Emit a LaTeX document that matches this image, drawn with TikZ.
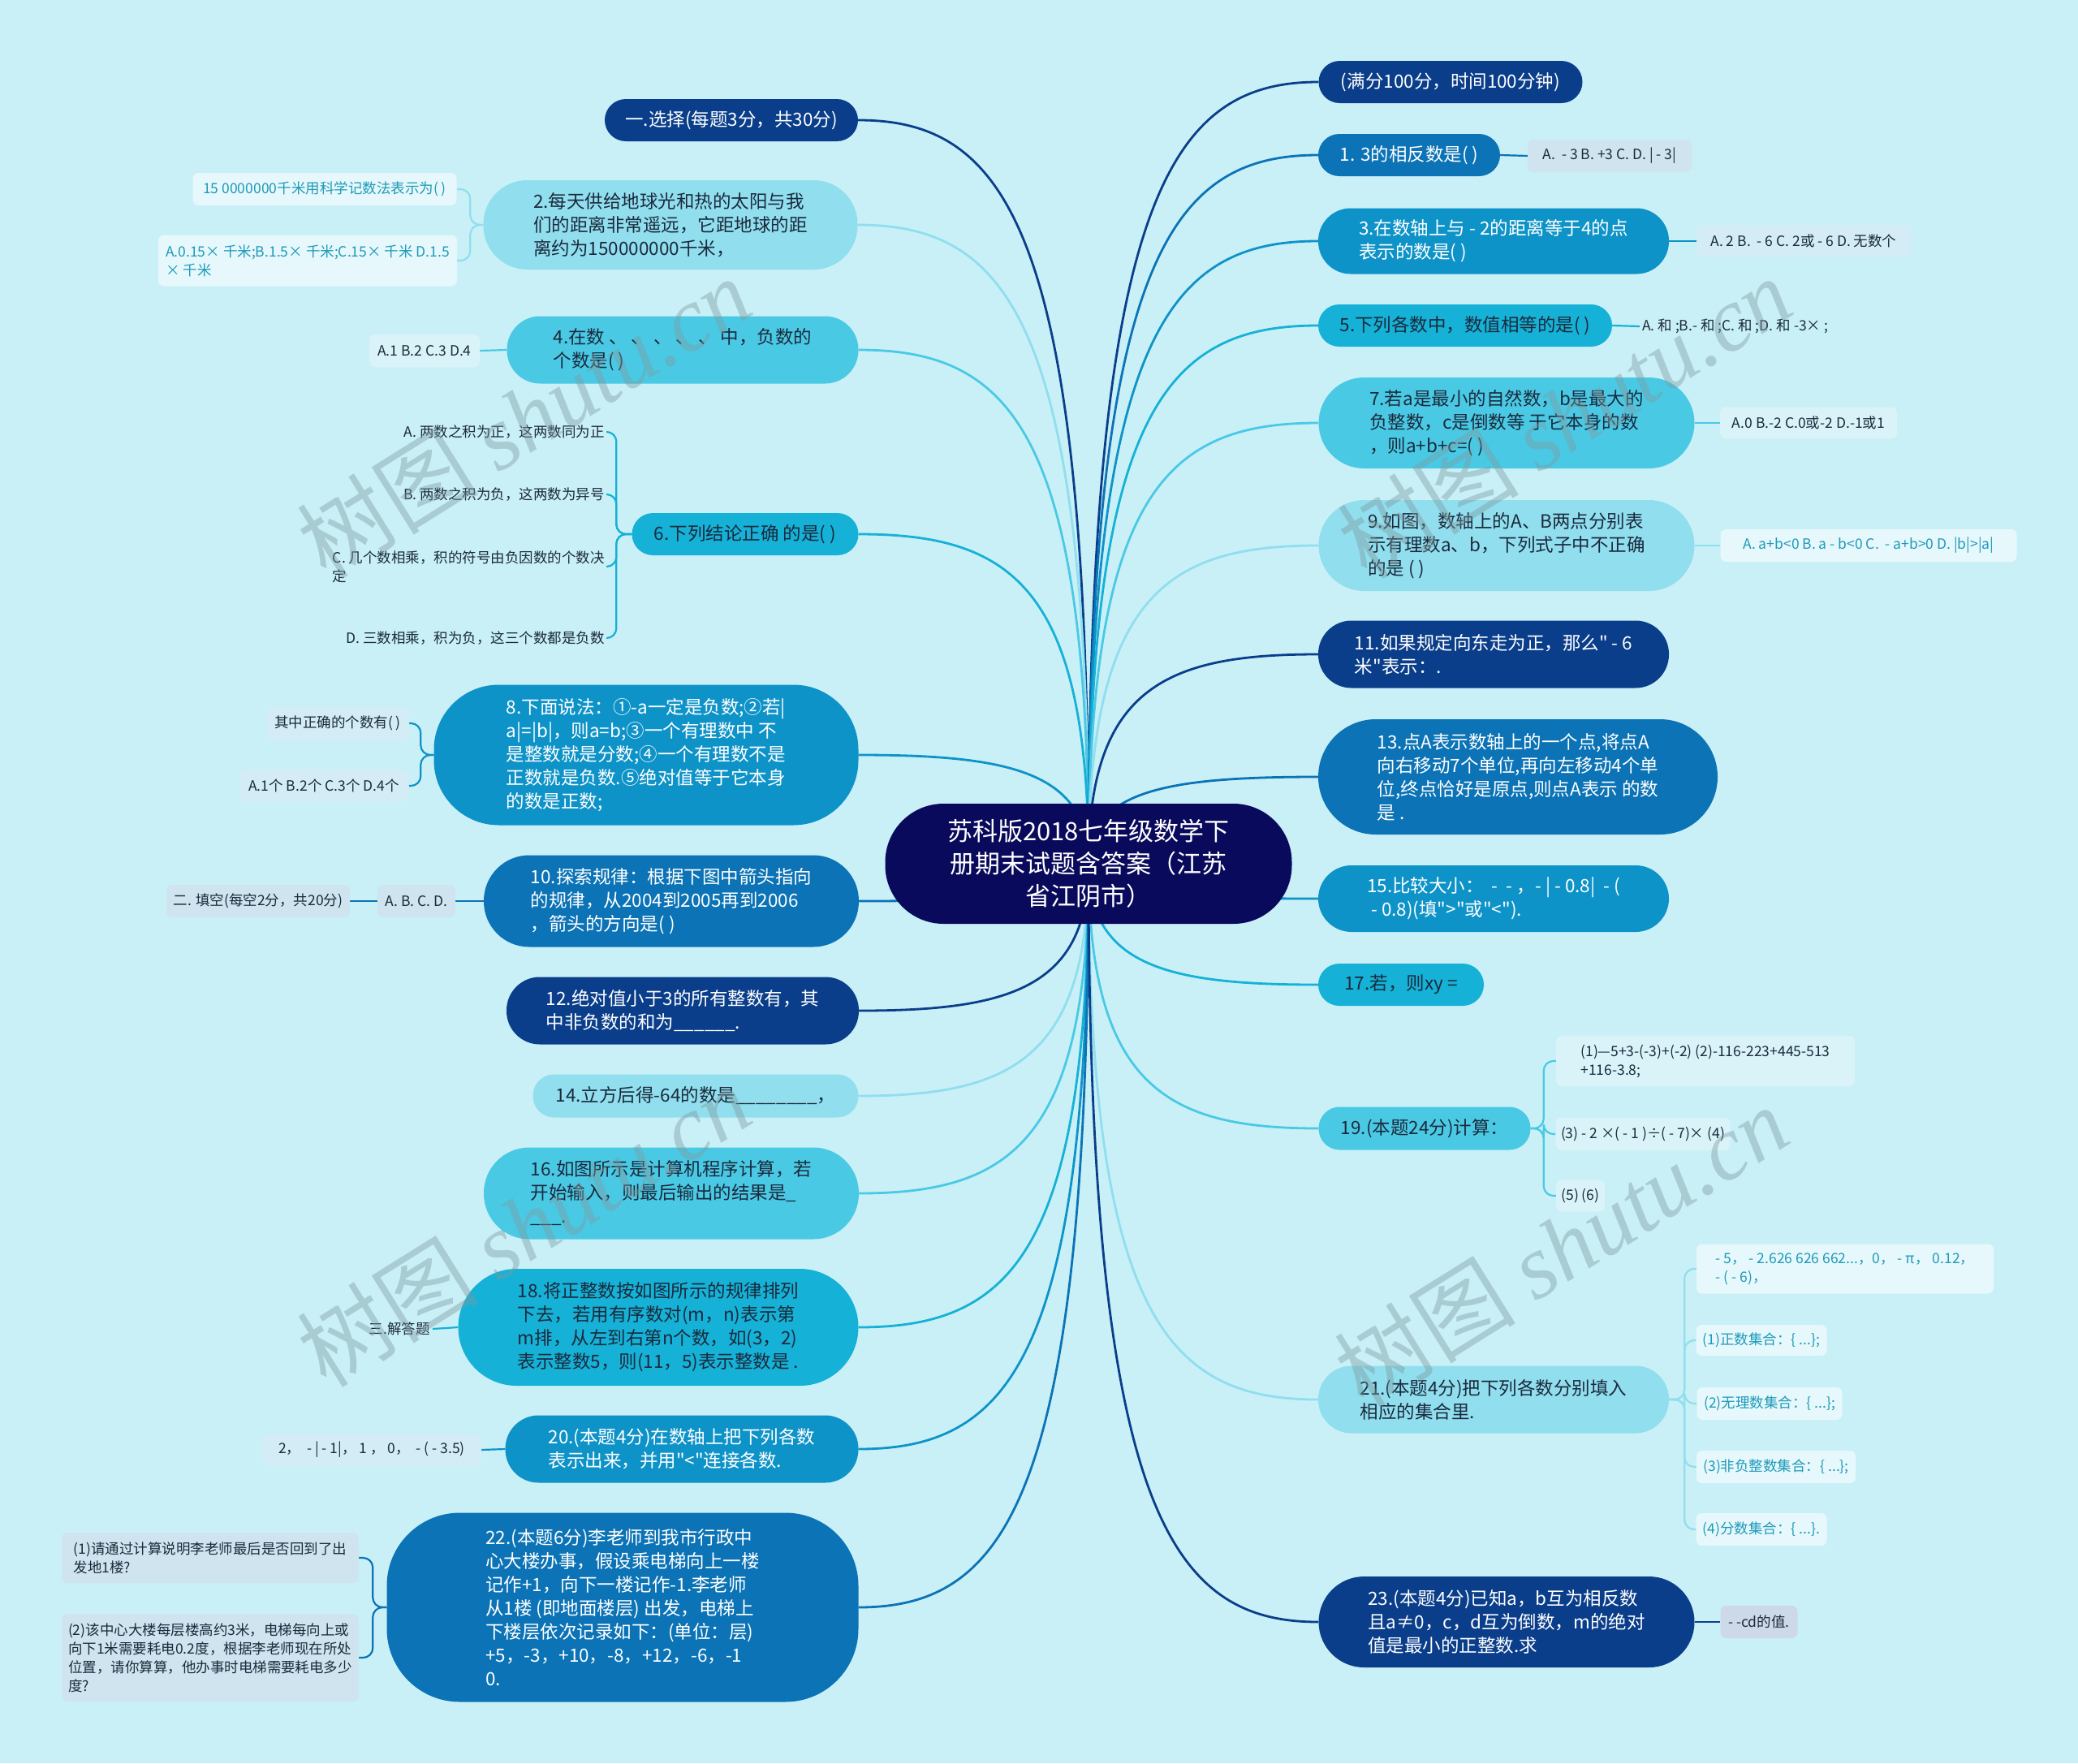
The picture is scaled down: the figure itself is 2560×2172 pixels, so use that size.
\documentclass[tikz,border=0pt]{standalone}
\usepackage{fontspec}
\setmainfont{Noto Sans CJK SC}[Ligatures=TeXOff]
\newfontfamily\wmserif{Liberation Serif}
\usetikzlibrary{calc,positioning}

\pgfdeclarelayer{bg}
\pgfdeclarelayer{lines}
\pgfsetlayers{bg,lines,main}

\definecolor{page}{HTML}{C9F0F7}
\definecolor{rootc}{HTML}{0A0A5C}
\definecolor{cdark}{HTML}{0A3E8A}
\definecolor{cblue}{HTML}{0B73B6}
\definecolor{cmed}{HTML}{0E93C8}
\definecolor{cteal}{HTML}{15B1D7}
\definecolor{ccyan}{HTML}{4AC9E5}
\definecolor{clight}{HTML}{90DEEE}
\definecolor{ink}{HTML}{1B2A3C}
\definecolor{tealink}{HTML}{1E9AB8}
\definecolor{lflight}{HTML}{E6F8FC}
\definecolor{lfcyan}{HTML}{DAF3F9}
\definecolor{lfmed}{HTML}{D3ECF5}
\definecolor{lfblue}{HTML}{CFE4EF}
\definecolor{lfdark}{HTML}{CDD8E8}
\definecolor{wmc}{HTML}{7F9A9F}

\newcommand\fsroot{\fontsize{31}{40}\selectfont}
\newcommand\fsmain{\fontsize{22.5}{29}\selectfont}
\newcommand\fsleaf{\fontsize{17.5}{23}\selectfont}
\newcommand\fswm{\fontsize{112}{120}\selectfont}

\tikzset{
  rootbox/.style={
    rectangle,
    rounded corners=72pt,
    fill=rootc,
    text=white,
    font=\fsroot,
    align=center,
    inner sep=0pt,
    minimum width=501pt,
    minimum height=148pt
  },
  topic/.style={
    rectangle,
    rounded corners=26pt,
    align=left,
    inner sep=0pt,
    font=\fsmain
  },
  dark_topic/.style={topic, fill=cdark, text=white},
  blue_topic/.style={topic, fill=cblue, text=white},
  med_topic/.style={topic, fill=cmed, text=white},
  teal_topic/.style={topic, fill=cteal, text=ink},
  cyan_topic/.style={topic, fill=ccyan, text=ink},
  light_topic/.style={topic, fill=clight, text=ink},
  leaf/.style={
    rectangle,
    rounded corners=7pt,
    align=left,
    inner sep=0pt,
    font=\fsleaf,
    text=ink
  },
  leaf_light/.style={leaf, fill=lflight, text=tealink},
  leaf_cyan/.style={leaf, fill=lfcyan},
  leaf_med/.style={leaf, fill=lfmed},
  leaf_blue/.style={leaf, fill=lfblue},
  leaf_dark/.style={leaf, fill=lfdark},
  leaf_bare/.style={leaf, inner sep=3pt},
  spoke/.style={line width=2.8pt},
  twig/.style={line width=2.2pt, rounded corners=12pt},
  wmark/.style={font=\fswm, text=wmc, text opacity=0.42, rotate=32}
}

\begin{document}
\begin{tikzpicture}[x=1pt, y=-1pt]
  \begin{pgfonlayer}{bg}
    \fill[page] (0,0) rectangle (2560,2172);
  \end{pgfonlayer}

  %=========================================================
  % centre
  %=========================================================
  \node[rootbox] (root) at (1341,1064)
    {苏科版2018七年级数学下\\册期末试题含答案（江苏\\省江阴市）};

  %=========================================================
  % left branches
  %=========================================================
  \node[dark_topic, minimum width=312pt, minimum height=52pt] (L1) at (901,148)
    {一.选择(每题3分，共30分)};
  \node[light_topic, rounded corners=54pt, minimum width=461pt, minimum height=110pt] (L2) at (826,277)
    {2.每天供给地球光和热的太阳与我\\们的距离非常遥远，它距地球的距\\离约为150000000千米，};
  \node[cyan_topic, rounded corners=41pt, minimum width=433pt, minimum height=83pt] (L3) at (841,431)
    {4.在数 、 、 、 、 、 中，负数的\\个数是( )};
  \node[teal_topic, minimum width=279pt, minimum height=52pt] (L4) at (918,658)
    {6.下列结论正确 的是( )};
  \node[med_topic, rounded corners=80pt, minimum width=523pt, minimum height=173pt] (L5) at (796,930)
    {8.下面说法：①-a一定是负数;②若|\\a|=|b|，则a=b;③一个有理数中 不\\是整数就是分数;④一个有理数不是\\正数就是负数.⑤绝对值等于它本身\\的数是正数;};
  \node[blue_topic, rounded corners=56pt, minimum width=462pt, minimum height=113pt] (L6) at (827,1110)
    {10.探索规律：根据下图中箭头指向\\的规律，从2004到2005再到2006\\，箭头的方向是( )};
  \node[dark_topic, rounded corners=41pt, minimum width=434pt, minimum height=83pt] (L7) at (841,1245)
    {12.绝对值小于3的所有整数有，其\\中非负数的和为\_\_\_\_\_\_.};
  \node[light_topic, minimum width=401pt, minimum height=53pt] (L8) at (857,1350)
    {14.立方后得-64的数是\_\_\_\_\_\_\_\_，};
  \node[cyan_topic, rounded corners=56pt, minimum width=462pt, minimum height=113pt] (L9) at (827,1470)
    {16.如图所示是计算机程序计算，若\\开始输入，则最后输出的结果是\_\\\_\_\_.};
  \node[teal_topic, rounded corners=72pt, minimum width=493pt, minimum height=144pt] (L10) at (811,1635)
    {18.将正整数按如图所示的规律排列\\下去，若用有序数对(m，n)表示第\\m排，从左到右第n个数，如(3，2)\\表示整数5，则(11，5)表示整数是 .};
  \node[med_topic, rounded corners=41pt, minimum width=435pt, minimum height=83pt] (L11) at (840,1785)
    {20.(本题4分)在数轴上把下列各数\\表示出来，并用"<"连接各数.};
  \node[blue_topic, rounded corners=90pt, minimum width=581pt, minimum height=233pt] (L12) at (767,1980)
    {22.(本题6分)李老师到我市行政中\\心大楼办事，假设乘电梯向上一楼\\记作+1，向下一楼记作-1.李老师\\从1楼 (即地面楼层) 出发，电梯上\\下楼层依次记录如下：(单位：层)\\+5，-3，+10，-8，+12，-6，-1\\0.};

  %=========================================================
  % right branches
  %=========================================================
  \node[dark_topic, minimum width=325pt, minimum height=52pt] (R1) at (1787,101)
    {(满分100分，时间100分钟)};
  \node[blue_topic, minimum width=224pt, minimum height=52pt] (R2) at (1736,191)
    {1. 3的相反数是( )};
  \node[med_topic, rounded corners=40pt, minimum width=432pt, minimum height=81pt] (R3) at (1840,297)
    {3.在数轴上与 - 2的距离等于4的点\\表示的数是( )};
  \node[teal_topic, minimum width=362pt, minimum height=52pt] (R4) at (1805,401)
    {5.下列各数中，数值相等的是( )};
  \node[cyan_topic, rounded corners=56pt, minimum width=463pt, minimum height=112pt] (R5) at (1856,521)
    {7.若a是最小的自然数，b是最大的\\负整数，c是倒数等 于它本身的数\\，则a+b+c=( )};
  \node[light_topic, rounded corners=56pt, minimum width=463pt, minimum height=112pt] (R6) at (1856,672)
    {9.如图，数轴上的A、B两点分别表\\示有理数a、b，下列式子中不正确\\的是 ( )};
  \node[dark_topic, rounded corners=41pt, minimum width=432pt, minimum height=83pt] (R7) at (1840,806)
    {11.如果规定向东走为正，那么" - 6\\米"表示：.};
  \node[blue_topic, rounded corners=71pt, minimum width=492pt, minimum height=142pt] (R8) at (1870,957)
    {13.点A表示数轴上的一个点,将点A\\向右移动7个单位,再向左移动4个单\\位,终点恰好是原点,则点A表示 的数\\是 .};
  \node[med_topic, rounded corners=41pt, minimum width=432pt, minimum height=82pt] (R9) at (1840,1107)
    {15.比较大小：\ \ -\ \ - ，- | - 0.8|\ \ - (\\\ - 0.8)(填">"或"<").};
  \node[teal_topic, minimum width=204pt, minimum height=52pt] (R10) at (1726,1213)
    {17.若，则xy =};
  \node[cyan_topic, minimum width=261pt, minimum height=53pt] (R11) at (1755,1390)
    {19.(本题24分)计算：};
  \node[light_topic, rounded corners=41pt, minimum width=432pt, minimum height=83pt] (R12) at (1840,1724)
    {21.(本题4分)把下列各数分别填入\\相应的集合里.};
  \node[dark_topic, rounded corners=56pt, minimum width=463pt, minimum height=112pt] (R13) at (1856,1998)
    {23.(本题4分)已知a，b互为相反数\\且a≠0，c，d互为倒数，m的绝对\\值是最小的正整数.求};

  %=========================================================
  % leaves, left side
  %=========================================================
  \node[leaf_light, minimum width=325pt, minimum height=40pt] (L2a) at (400,233)
    {15 0000000千米用科学记数法表示为( )};
  \node[leaf_light, minimum width=368pt, minimum height=63pt] (L2b) at (379,321)
    {A.0.15× 千米;B.1.5× 千米;C.15× 千米 D.1.5\\× 千米};
  \node[leaf_cyan, minimum width=136pt, minimum height=40pt] (L3a) at (523,432)
    {A.1 B.2 C.3 D.4};
  \node[leaf_bare, anchor=east] (L4a) at (748,532) {A. 两数之积为正，这两数同为正};
  \node[leaf_bare, anchor=east] (L4b) at (748,609) {B. 两数之积为负，这两数为异号};
  \node[leaf_bare, anchor=east] (L4c) at (748,698) {C. 几个数相乘，积的符号由负因数的个数决\\定};
  \node[leaf_bare, anchor=east] (L4d) at (748,786) {D. 三数相乘，积为负，这三个数都是负数};
  \node[leaf_med, minimum width=176pt, minimum height=40pt] (L5a) at (416,891)
    {其中正确的个数有( )};
  \node[leaf_med, minimum width=209pt, minimum height=40pt] (L5b) at (399,968)
    {A.1个 B.2个 C.3个 D.4个};
  \node[leaf_blue, minimum width=96pt, minimum height=40pt] (L6a) at (513,1110)
    {A. B. C. D.};
  \node[leaf_blue, minimum width=226pt, minimum height=40pt] (L6b) at (318,1110)
    {二. 填空(每空2分，共20分)};
  \node[leaf_bare, anchor=east] (L10a) at (533,1637) {三.解答题};
  \node[leaf_med, minimum width=270pt, minimum height=39pt] (L11a) at (458,1786)
    {2，\ \ - | - 1|，\ 1 ，\ 0，\ \ - ( - 3.5)};
  \node[leaf_blue, minimum width=366pt, minimum height=62pt] (L12a) at (259,1919)
    {(1)请通过计算说明李老师最后是否回到了出\\发地1楼?};
  \node[leaf_blue, minimum width=366pt, minimum height=108pt] (L12b) at (259,2042)
    {(2)该中心大楼每层楼高约3米，电梯每向上或\\向下1米需要耗电0.2度，根据李老师现在所处\\位置，请你算算，他办事时电梯需要耗电多少\\度?};

  %=========================================================
  % leaves, right side
  %=========================================================
  \node[leaf_blue, minimum width=202pt, minimum height=40pt] (R2a) at (1983,192)
    {A.\ \ - 3 B. +3 C. D. | - 3|};
  \node[leaf_med, minimum width=264pt, minimum height=39pt] (R3a) at (2222,297)
    {A. 2 B.\ \ - 6 C. 2或 - 6 D. 无数个};
  \node[leaf_bare, anchor=west] (R4a) at (2020,402) {A. 和 ;B.- 和 ;C. 和 ;D. 和 -3× ;};
  \node[leaf_cyan, minimum width=218pt, minimum height=39pt] (R5a) at (2228,521)
    {A.0 B.-2 C.0或-2 D.-1或1};
  \node[leaf_light, minimum width=365pt, minimum height=40pt] (R6a) at (2302,672)
    {A. a+b<0 B. a - b<0 C.\ \ - a+b>0 D. |b|>|a|};
  \node[leaf_cyan, minimum width=368pt, minimum height=62pt] (R11a) at (2101,1307)
    {(1)—5+3-(-3)+(-2) (2)-116-223+445-513\\+116-3.8;};
  \node[leaf_cyan, minimum width=215pt, minimum height=40pt] (R11b) at (2024,1397)
    {(3) - 2 ×( - 1 )÷( - 7)× (4)};
  \node[leaf_cyan, minimum width=60pt, minimum height=39pt] (R11c) at (1947,1473)
    {(5) (6)};
  \node[leaf_light, minimum width=366pt, minimum height=61pt] (R12a) at (2273,1563)
    {- 5，\ - 2.626 626 662...，0，\ - π，\ 0.12，\\- ( - 6)，};
  \node[leaf_light, minimum width=161pt, minimum height=38pt] (R12b) at (2170,1651)
    {(1)正数集合：\{ ...\};};
  \node[leaf_light, minimum width=179pt, minimum height=40pt] (R12c) at (2180,1729)
    {(2)无理数集合：\{ ...\};};
  \node[leaf_light, minimum width=196pt, minimum height=40pt] (R12d) at (2188,1807)
    {(3)非负整数集合：\{ ...\};};
  \node[leaf_light, minimum width=161pt, minimum height=40pt] (R12e) at (2170,1884)
    {(4)分数集合：\{ ...\}.};
  \node[leaf_dark, minimum width=95pt, minimum height=40pt] (R13a) at (2167,1998)
    {- -cd的值.};

  %=========================================================
  % connectors, drawn under the boxes
  %=========================================================
  \begin{pgfonlayer}{lines}
    \foreach \n/\a/\c in {L1/east/cdark, L2/east/clight, L3/east/ccyan, L4/east/cteal,
        L5/east/cmed, L6/east/cblue, L7/east/cdark, L8/east/clight, L9/east/ccyan,
        L10/east/cteal, L11/east/cmed, L12/east/cblue,
        R1/west/cdark, R2/west/cblue, R3/west/cmed, R4/west/cteal, R5/west/ccyan,
        R6/west/clight, R7/west/cdark, R8/west/cblue, R9/west/cmed, R10/west/cteal,
        R11/west/ccyan, R12/west/clight, R13/west/cdark}
      \draw[spoke, draw=\c] (root.center)
        .. controls ($(root.center)!0.85!(root.center |- \n.\a)$)
        and ($(\n.\a)!0.65!(root.center |- \n.\a)$) .. (\n.\a);

    % brackets and short links to the leaves
    \foreach \k in {a,b}
      \draw[twig, draw=clight] (L2.west) -- ++(-16,0) |- (L2\k.east);
    \draw[twig, draw=ccyan] (L3.west) -- (L3a.east);
    \foreach \k in {a,b,c,d}
      \draw[twig, draw=cteal] (L4.west) -- ++(-19,0) |- (L4\k.east);
    \foreach \k in {a,b}
      \draw[twig, draw=cmed] (L5.west) -- ++(-16,0) |- (L5\k.east);
    \draw[twig, draw=cblue] (L6.west) -- (L6a.east);
    \draw[twig, draw=cblue] (L6a.west) -- (L6b.east);
    \draw[twig, draw=cteal] (L10.west) -- (L10a.east);
    \draw[twig, draw=cmed] (L11.west) -- (L11a.east);
    \foreach \k in {a,b}
      \draw[twig, draw=cblue] (L12.west) -- ++(-17,0) |- (L12\k.east);

    \draw[twig, draw=cblue] (R2.east) -- (R2a.west);
    \draw[twig, draw=cmed] (R3.east) -- (R3a.west);
    \draw[twig, draw=cteal] (R4.east) -- (R4a.west);
    \draw[twig, draw=ccyan] (R5.east) -- (R5a.west);
    \draw[twig, draw=clight] (R6.east) -- (R6a.west);
    \foreach \k in {a,b,c}
      \draw[twig, draw=ccyan] (R11.east) -- ++(16,0) |- (R11\k.west);
    \foreach \k in {a,b,c,d,e}
      \draw[twig, draw=clight] (R12.east) -- ++(19,0) |- (R12\k.west);
    \draw[twig, draw=cdark] (R13.east) -- (R13a.west);
  \end{pgfonlayer}

  %=========================================================
  % watermarks
  %=========================================================
  \node[wmark] (wm1) at (645,514)   {树图 {\wmserif\itshape shutu.cn}};
  \node[wmark] (wm2) at (645,1510)  {树图 {\wmserif\itshape shutu.cn}};
  \node[wmark] (wm3) at (1927,514)  {树图 {\wmserif\itshape shutu.cn}};
  \node[wmark] (wm4) at (1923,1535) {树图 {\wmserif\itshape shutu.cn}};
\end{tikzpicture}
\end{document}
